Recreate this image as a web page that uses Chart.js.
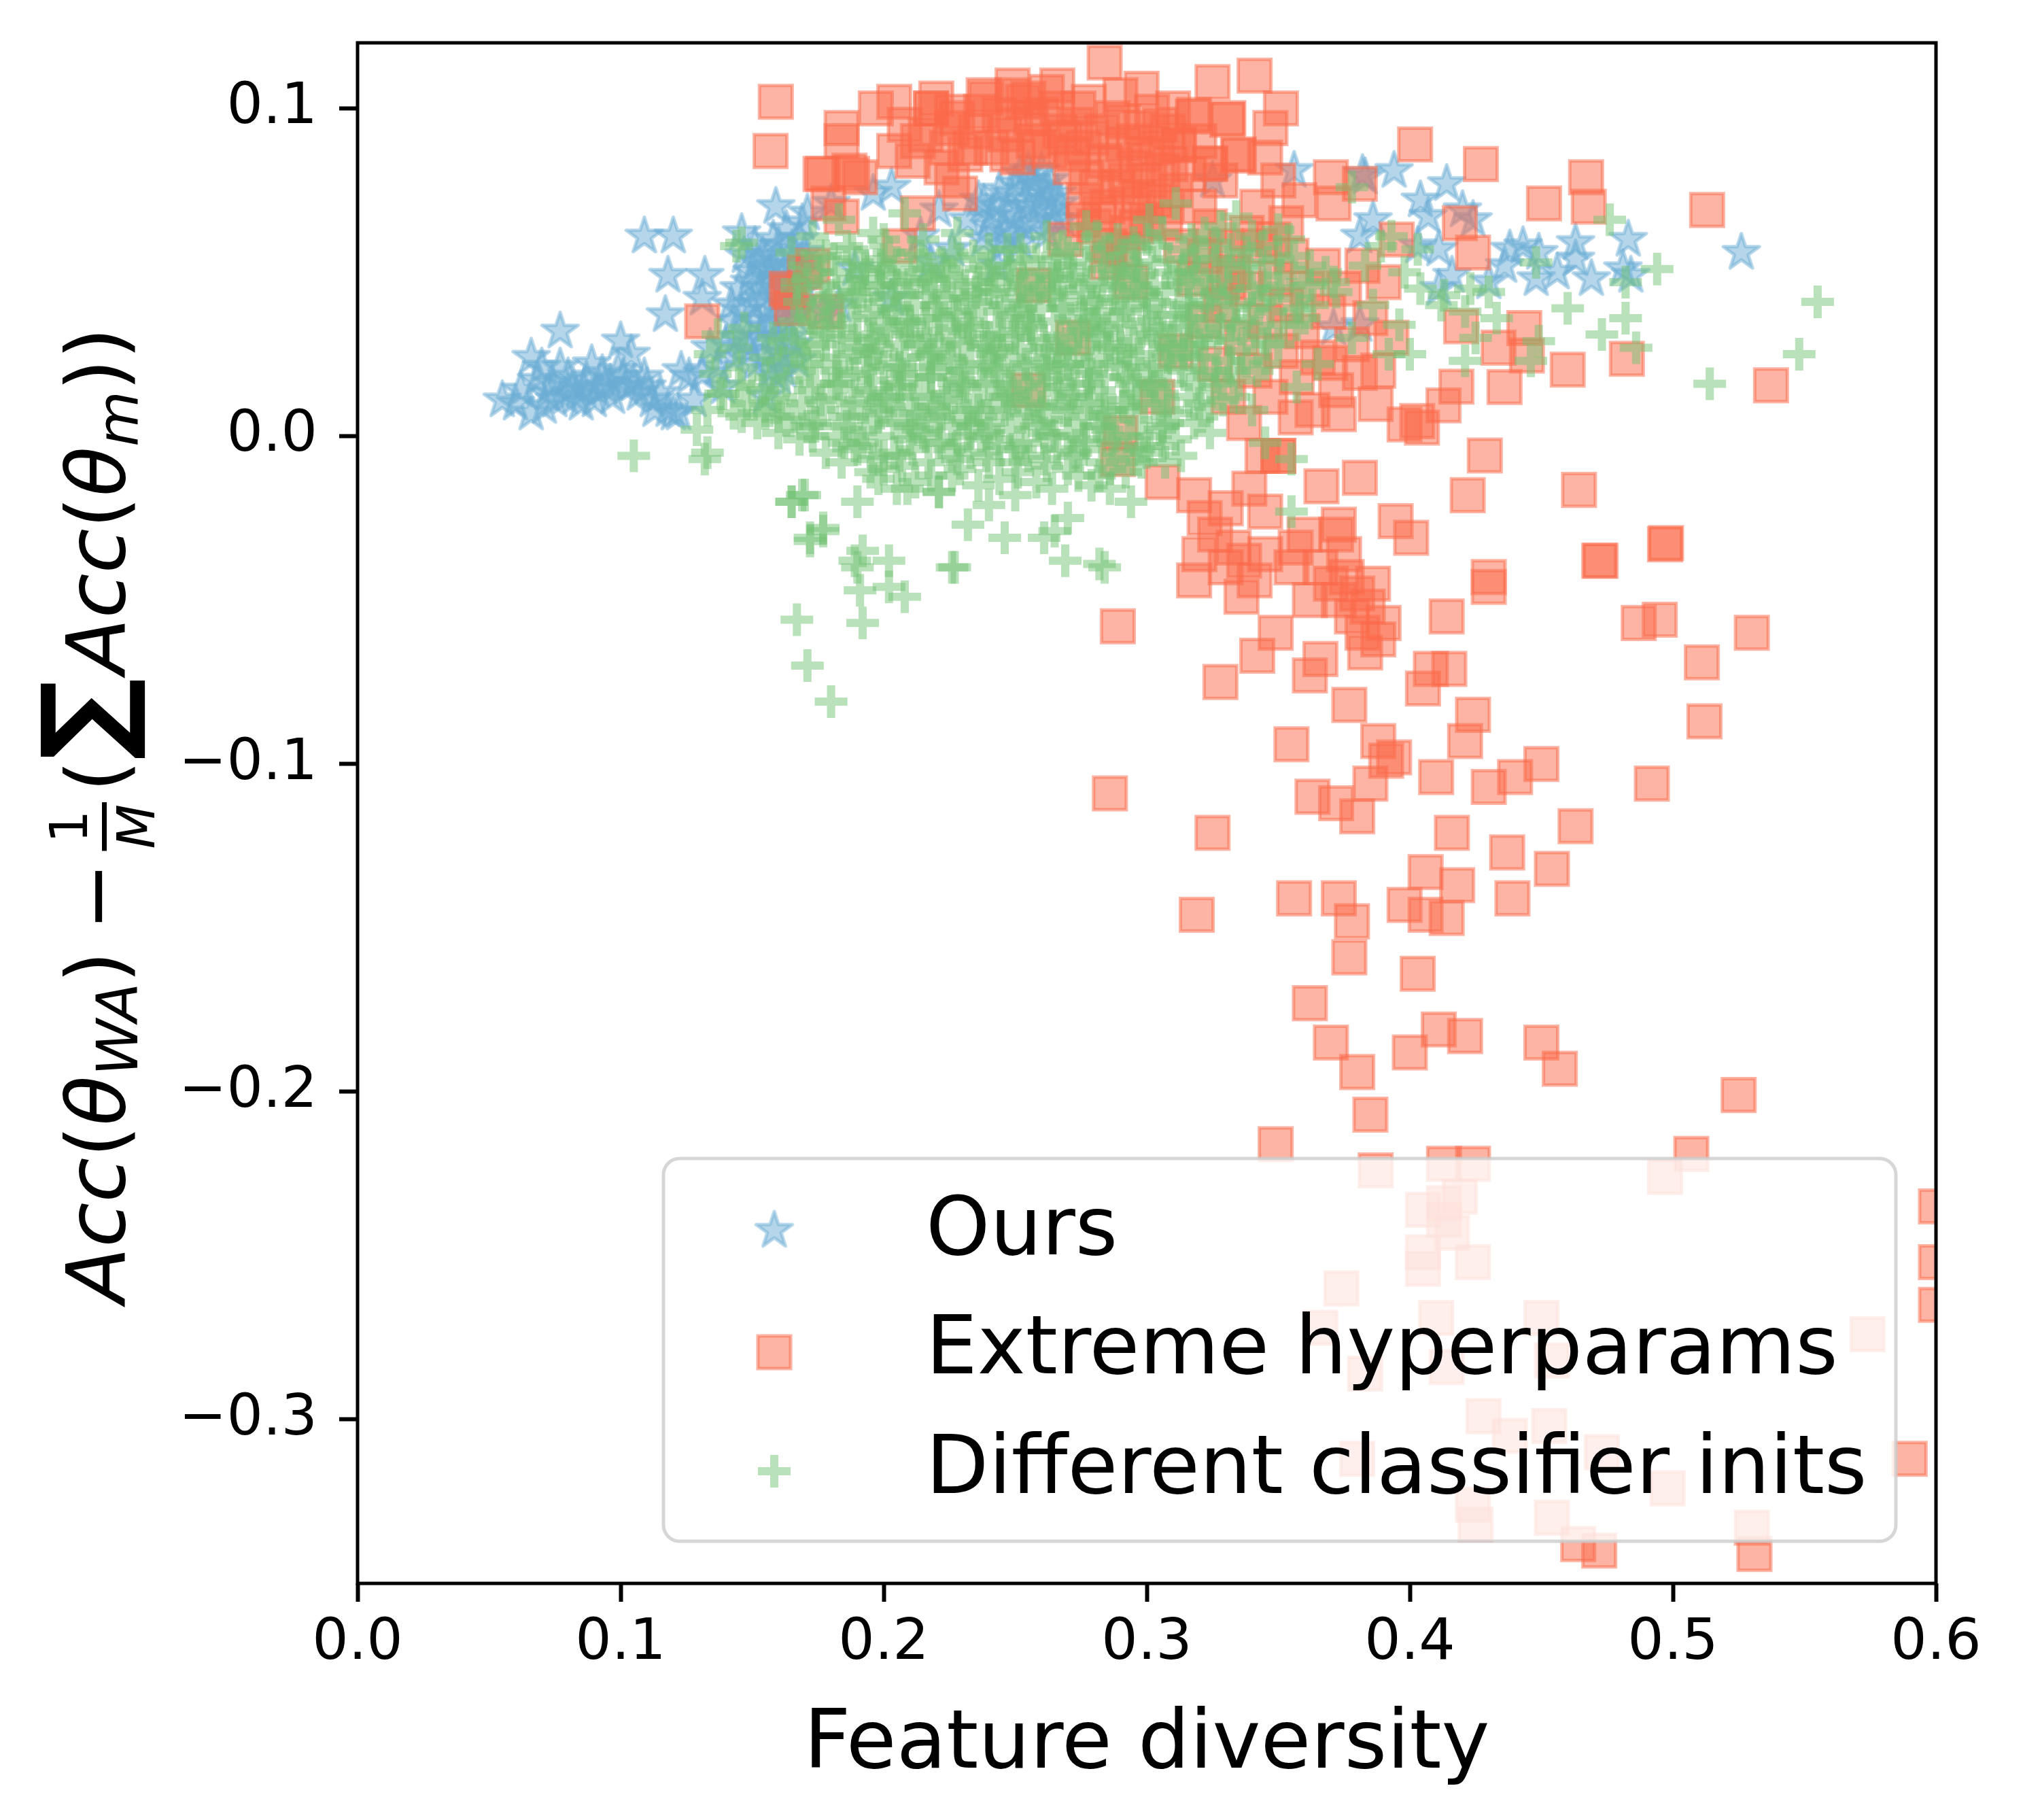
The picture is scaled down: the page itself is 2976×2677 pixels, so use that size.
<!DOCTYPE html>
<html>
<head>
<meta charset="utf-8">
<script src="https://cdn.jsdelivr.net/npm/chart.js@4.4.1/dist/chart.umd.min.js"></script>
<style>
  html, body { margin: 0; padding: 0; background: #fff; }
  canvas { display: block; }
</style>
</head>
<body>
<canvas id="grafico" width="2976" height="2677"></canvas>
<script>
const xTicks = [0.0, 0.1, 0.2, 0.3, 0.4, 0.5, 0.6];
const yTicks = [-0.3, -0.2, -0.1, 0.0, 0.1];
const xRange = [0, 0.6];
const yRange = [-0.35, 0.12];
const seriesNames = ['Ours', 'Extreme hyperparams', 'Different classifier inits'];

// Ours (stars)
const oursPts = [
  [0.055,0.011],[0.060,0.010],[0.066,0.007],[0.066,0.024],[0.070,0.021],[0.072,0.013],[0.074,0.016],
  [0.077,0.032],[0.077,0.021],[0.079,0.012],[0.082,0.015],[0.085,0.010],[0.087,0.017],[0.089,0.022],
  [0.091,0.014],[0.093,0.019],[0.096,0.016],[0.099,0.020],[0.100,0.029],[0.102,0.015],[0.104,0.025],
  [0.107,0.013],[0.109,0.018],[0.112,0.011],[0.115,0.013],[0.118,0.008],[0.120,0.007],[0.123,0.020],
  [0.126,0.018],[0.128,0.011],[0.131,0.019],[0.134,0.027],[0.137,0.021],[0.140,0.028],[0.143,0.035],
  [0.143,0.024],[0.139,0.015],[0.122,0.007],
  [0.062,0.014],[0.068,0.017],[0.071,0.009],[0.075,0.011],[0.080,0.018],[0.083,0.012],[0.086,0.014],
  [0.090,0.011],[0.094,0.015],[0.097,0.012],[0.101,0.018],[0.105,0.016],[0.110,0.015],[0.113,0.008],
  [0.109,0.061],[0.120,0.061],[0.118,0.049],[0.132,0.049],[0.117,0.037],[0.131,0.042],[0.146,0.062],
  [0.159,0.070],
  [0.148,0.030],[0.150,0.040],[0.150,0.050],[0.152,0.035],[0.153,0.045],[0.154,0.055],[0.155,0.025],
  [0.156,0.038],[0.157,0.048],[0.158,0.060],[0.159,0.030],[0.160,0.042],[0.161,0.052],[0.162,0.020],
  [0.163,0.035],[0.164,0.046],[0.165,0.057],[0.166,0.028],[0.167,0.040],[0.168,0.050],[0.169,0.065],
  [0.155,0.012],[0.160,0.018],[0.145,0.045],[0.147,0.055],[0.151,0.022],[0.158,0.052],[0.163,0.063],
  [0.146,0.038],[0.149,0.026],[0.151,0.058],[0.153,0.030],[0.154,0.042],[0.156,0.051],[0.157,0.020],
  [0.158,0.035],[0.160,0.058],[0.161,0.025],[0.162,0.045],[0.164,0.030],[0.165,0.052],[0.166,0.037],
  [0.168,0.060],[0.167,0.023],[0.170,0.045],[0.170,0.056],[0.149,0.047],[0.152,0.053],[0.155,0.033],
  [0.159,0.048],[0.163,0.040],[0.144,0.030],[0.142,0.040],
  [0.171,0.068],[0.180,0.071],[0.177,0.038],[0.183,0.040],[0.189,0.051],[0.196,0.074],[0.203,0.076],
  [0.203,0.042],[0.214,0.061],[0.218,0.053],[0.221,0.069],[0.226,0.057],[0.238,0.060],[0.243,0.052],
  [0.232,0.066],[0.236,0.072],[0.240,0.064],[0.243,0.070],[0.246,0.062],[0.248,0.074],[0.250,0.067],
  [0.252,0.059],[0.254,0.072],[0.256,0.078],[0.257,0.065],[0.259,0.070],[0.261,0.075],[0.262,0.062],
  [0.264,0.069],[0.266,0.074],[0.268,0.066],[0.252,0.080],[0.260,0.081],[0.245,0.058],
  [0.238,0.071],[0.241,0.067],[0.244,0.075],[0.247,0.068],[0.250,0.077],[0.253,0.064],[0.255,0.070],
  [0.258,0.076],[0.263,0.078],[0.265,0.066],[0.267,0.071],[0.249,0.061],[0.255,0.081],[0.262,0.072],
  [0.356,0.081],[0.383,0.079],[0.394,0.081],[0.414,0.077],[0.404,0.072],[0.407,0.067],[0.420,0.069],
  [0.424,0.066],[0.386,0.066],[0.381,0.061],[0.403,0.058],[0.411,0.057],[0.438,0.057],[0.443,0.058],
  [0.449,0.056],[0.463,0.059],[0.463,0.054],[0.483,0.060],[0.526,0.056],[0.481,0.051],[0.484,0.049],
  [0.469,0.048],[0.456,0.050],[0.448,0.048],[0.436,0.052],[0.430,0.047],[0.411,0.045],[0.416,0.049],
  [0.381,0.034],[0.371,0.033],[0.325,0.078],[0.382,0.080]
];

// Extreme hyperparams (squares)
const extremePts = [
  [0.159,0.102],[0.157,0.087],[0.184,0.094],[0.197,0.100],[0.204,0.102],[0.177,0.080],[0.188,0.080],
  [0.204,0.087],[0.218,0.100],[0.226,0.099],[0.239,0.103],[0.249,0.107],[0.255,0.103],[0.266,0.107],
  [0.284,0.114],[0.298,0.106],[0.291,0.096],[0.310,0.100],[0.318,0.098],[0.325,0.108],[0.331,0.097],
  [0.341,0.110],[0.335,0.086],[0.324,0.083],[0.312,0.089],[0.351,0.100],[0.347,0.094],[0.358,0.072],
  [0.370,0.079],[0.371,0.071],[0.381,0.077],[0.402,0.089],[0.427,0.083],[0.467,0.079],[0.468,0.070],
  [0.451,0.071],[0.513,0.069],[0.419,0.065],[0.424,0.056],
  [0.213,0.090],[0.218,0.100],[0.222,0.082],[0.226,0.094],[0.229,0.074],[0.233,0.088],[0.237,0.099],
  [0.246,0.092],[0.249,0.104],[0.251,0.085],[0.256,0.097],[0.259,0.088],[0.262,0.105],[0.267,0.093],
  [0.272,0.086],[0.274,0.100],[0.277,0.079],[0.279,0.091],[0.282,0.068],[0.284,0.084],[0.287,0.097],
  [0.289,0.076],[0.291,0.089],[0.294,0.071],[0.296,0.082],[0.298,0.094],[0.301,0.078],[0.304,0.088],
  [0.307,0.070],[0.309,0.083],[0.293,0.062],[0.286,0.058],[0.276,0.066],[0.300,0.066],[0.311,0.075],
  [0.208,0.095],[0.211,0.084],[0.216,0.092],[0.220,0.103],[0.224,0.088],[0.228,0.097],[0.231,0.086],
  [0.235,0.093],[0.238,0.104],[0.241,0.088],[0.244,0.098],[0.247,0.086],[0.250,0.095],[0.253,0.102],
  [0.257,0.090],[0.260,0.098],[0.263,0.087],[0.266,0.100],[0.269,0.091],[0.271,0.082],[0.273,0.095],
  [0.276,0.088],[0.278,0.102],[0.281,0.076],[0.283,0.093],[0.285,0.070],[0.288,0.083],[0.290,0.104],
  [0.292,0.078],[0.295,0.090],[0.297,0.073],[0.299,0.086],[0.302,0.099],[0.303,0.072],[0.306,0.081],
  [0.308,0.093],[0.280,0.064],[0.296,0.064],[0.226,0.078],[0.276,0.072],
  [0.3175,0.0975],[0.3306,0.0965],[0.3347,0.0856],[0.3242,0.0833],[0.3123,0.0887],[0.320,0.090],
  [0.328,0.078],[0.316,0.080],[0.305,0.095],[0.345,0.085],[0.350,0.078],[0.342,0.070],[0.353,0.065],
  [0.338,0.062],[0.348,0.060],
  [0.184,0.090],[0.176,0.080],[0.187,0.081],[0.191,0.079],[0.179,0.071],[0.184,0.067],[0.164,0.044],
  [0.165,0.039],[0.178,0.038],[0.170,0.050],[0.131,0.035],[0.163,0.045],[0.173,0.052],[0.206,0.058],
  [0.213,0.068],
  [0.269,0.060],[0.272,0.030],[0.257,0.046],[0.255,0.014],[0.290,0.001],[0.289,-0.007],[0.304,0.012],
  [0.306,-0.014],[0.318,-0.018],[0.311,0.026],[0.331,0.047],[0.291,0.057],[0.294,0.047],[0.285,0.053],
  [0.307,0.065],[0.313,0.058],[0.320,0.070],[0.324,0.064],[0.318,0.048],[0.322,0.035],[0.330,0.058],
  [0.322,0.055],[0.328,0.040],[0.333,0.050],[0.336,0.030],[0.338,0.045],[0.341,0.020],[0.343,0.058],
  [0.345,0.035],[0.347,0.012],[0.349,0.048],[0.351,0.026],[0.353,0.040],[0.355,0.055],[0.357,0.018],
  [0.359,0.032],[0.361,0.045],[0.363,0.008],[0.365,0.024],[0.367,0.052],[0.369,0.038],[0.372,0.014],
  [0.375,0.045],[0.378,0.028],[0.382,0.052],[0.385,0.036],[0.388,0.020],[0.390,0.047],[0.395,0.060],
  [0.393,0.030],[0.326,0.022],[0.331,0.012],[0.337,0.004],[0.344,-0.006],[0.350,-0.006],
  [0.4435,0.033],[0.436,0.015],[0.4177,0.0151],[0.4128,0.0094],[0.4028,0.0046],[0.4046,0.0026],
  [0.387,0.0098],[0.373,0.0067],[0.3566,0.0057],[0.460,0.0203],[0.4825,0.0236],[0.5373,0.0155],
  [0.4445,0.0246],[0.4337,0.027],[0.4195,0.0335],[0.381,0.0193],[0.3697,0.0223],[0.4285,-0.0059],
  [0.422,-0.018],[0.4643,-0.0164],[0.4974,-0.0326],[0.4725,-0.038],[0.430,-0.043],[0.381,-0.0127],
  [0.3664,-0.0153],[0.3946,-0.0259],[0.4005,-0.031],[0.373,-0.027],[0.3566,-0.034],[0.350,-0.006],
  [0.398,0.0036],
  [0.322,-0.025],[0.326,-0.030],[0.320,-0.036],[0.330,-0.040],[0.333,-0.034],[0.337,-0.038],
  [0.341,-0.044],[0.345,-0.036],[0.330,-0.022],[0.339,-0.016],[0.345,-0.023],[0.318,-0.044],
  [0.336,-0.049],[0.349,-0.060],[0.342,-0.067],
  [0.366,-0.040],[0.370,-0.045],[0.373,-0.050],[0.376,-0.043],[0.378,-0.055],[0.380,-0.048],
  [0.382,-0.060],[0.384,-0.052],[0.386,-0.045],[0.388,-0.062],[0.383,-0.066],[0.390,-0.057],
  [0.375,-0.036],[0.372,-0.030],[0.355,-0.040],[0.360,-0.030],[0.362,-0.050],
  [0.289,-0.058],[0.286,-0.109],[0.325,-0.121],[0.319,-0.146],[0.328,-0.075],[0.355,-0.094],
  [0.366,-0.068],[0.362,-0.073],[0.377,-0.082],[0.388,-0.093],[0.394,-0.098],[0.391,-0.099],
  [0.385,-0.106],[0.363,-0.110],[0.372,-0.112],[0.380,-0.116],[0.410,-0.104],[0.421,-0.093],
  [0.424,-0.085],[0.405,-0.077],[0.408,-0.071],[0.415,-0.071],[0.414,-0.055],[0.430,-0.046],
  [0.430,-0.107],[0.440,-0.104],[0.450,-0.100],[0.416,-0.121],[0.463,-0.119],[0.437,-0.127],
  [0.454,-0.132],[0.492,-0.106],[0.512,-0.087],[0.511,-0.069],[0.530,-0.060],[0.487,-0.057],
  [0.495,-0.056],[0.472,-0.038],[0.497,-0.033],[0.356,-0.141],[0.373,-0.141],[0.378,-0.148],
  [0.377,-0.159],[0.406,-0.133],[0.418,-0.137],[0.398,-0.143],[0.406,-0.146],[0.414,-0.147],
  [0.439,-0.141],[0.403,-0.164],[0.362,-0.173],[0.370,-0.185],[0.380,-0.194],[0.385,-0.207],
  [0.400,-0.188],[0.411,-0.181],[0.421,-0.183],[0.450,-0.185],[0.457,-0.193],[0.525,-0.201],
  [0.349,-0.216],[0.387,-0.224],[0.413,-0.222],[0.424,-0.222],[0.497,-0.226],[0.507,-0.219],
  [0.405,-0.236],[0.413,-0.234],[0.419,-0.232],[0.413,-0.239],[0.416,-0.243],[0.405,-0.249],
  [0.405,-0.254],[0.424,-0.252],[0.374,-0.260],[0.366,-0.272],[0.410,-0.269],[0.450,-0.269],
  [0.414,-0.284],[0.383,-0.286],[0.454,-0.282],[0.574,-0.274],[0.600,-0.252],[0.600,-0.235],
  [0.600,-0.265],[0.590,-0.312],[0.428,-0.299],[0.438,-0.305],[0.453,-0.302],[0.380,-0.312],
  [0.473,-0.310],[0.498,-0.321],[0.424,-0.326],[0.425,-0.332],[0.454,-0.330],[0.464,-0.338],
  [0.472,-0.340],[0.530,-0.333],[0.531,-0.341]
];

// Different classifier inits (plus)
const initsPts = [
  [0.183,0.066],[0.196,0.062],[0.208,0.068],[0.262,0.061],[0.277,0.064],[0.289,0.060],[0.301,0.066],
  [0.311,0.071],[0.322,0.062],[0.334,0.067],[0.173,0.061],[0.146,0.059],[0.144,0.058],
  [0.165,0.056],[0.176,0.055],[0.188,0.057],[0.199,0.054],[0.211,0.056],[0.222,0.053],[0.234,0.055],
  [0.247,0.057],[0.258,0.054],[0.270,0.056],[0.283,0.055],[0.296,0.057],[0.308,0.054],[0.319,0.056],
  [0.331,0.053],[0.344,0.058],[0.356,0.055],
  [0.171,0.048],[0.182,0.050],[0.193,0.052],[0.203,0.049],[0.214,0.050],
  [0.226,0.048],[0.237,0.051],[0.249,0.049],[0.260,0.050],[0.272,0.048],[0.284,0.051],[0.297,0.049],
  [0.309,0.050],[0.322,0.048],[0.336,0.051],[0.351,0.049],[0.368,0.050],
  [0.167,0.045],[0.178,0.042],[0.189,0.044],[0.199,0.046],[0.209,0.043],
  [0.219,0.045],[0.231,0.042],[0.242,0.044],[0.253,0.046],[0.264,0.043],[0.275,0.045],[0.287,0.042],
  [0.299,0.044],[0.312,0.046],[0.326,0.043],[0.340,0.045],[0.356,0.042],[0.372,0.044],
  [0.173,0.038],[0.184,0.040],[0.194,0.037],[0.205,0.039],
  [0.216,0.036],[0.227,0.038],[0.238,0.040],[0.249,0.037],[0.260,0.039],[0.271,0.036],[0.282,0.038],
  [0.294,0.040],[0.306,0.037],[0.318,0.039],[0.332,0.036],[0.347,0.038],[0.363,0.040],
  [0.137,0.031],[0.147,0.033],[0.158,0.030],[0.169,0.032],[0.180,0.034],[0.190,0.031],[0.201,0.033],
  [0.212,0.030],[0.223,0.032],[0.234,0.034],[0.245,0.031],[0.256,0.033],[0.267,0.030],[0.278,0.032],
  [0.290,0.034],[0.302,0.031],[0.314,0.033],[0.327,0.030],[0.341,0.032],[0.357,0.034],
  [0.134,0.025],[0.144,0.027],[0.155,0.024],[0.166,0.026],[0.176,0.028],[0.187,0.025],[0.198,0.027],
  [0.208,0.024],[0.219,0.026],[0.230,0.028],[0.241,0.025],[0.252,0.027],[0.263,0.024],[0.274,0.026],
  [0.285,0.028],[0.297,0.025],[0.309,0.027],[0.322,0.024],[0.336,0.026],[0.350,0.028],
  [0.136,0.019],[0.146,0.021],[0.157,0.018],[0.168,0.020],[0.178,0.022],[0.189,0.019],[0.200,0.021],
  [0.211,0.018],[0.222,0.020],[0.233,0.022],[0.244,0.019],[0.255,0.021],[0.266,0.018],[0.277,0.020],
  [0.288,0.022],[0.300,0.019],[0.313,0.021],[0.327,0.018],[0.342,0.020],
  [0.139,0.013],[0.150,0.015],[0.161,0.012],[0.172,0.014],[0.183,0.016],[0.194,0.013],[0.205,0.015],
  [0.216,0.012],[0.227,0.014],[0.238,0.016],[0.249,0.013],[0.260,0.015],[0.271,0.012],[0.282,0.014],
  [0.294,0.016],[0.306,0.013],[0.319,0.015],[0.333,0.012],
  [0.143,0.007],[0.155,0.009],[0.166,0.006],[0.177,0.008],[0.188,0.010],[0.199,0.007],[0.210,0.009],
  [0.221,0.006],[0.232,0.008],[0.243,0.010],[0.254,0.007],[0.265,0.009],[0.276,0.006],[0.287,0.008],
  [0.299,0.010],[0.311,0.007],[0.324,0.009],
  [0.160,0.001],[0.171,0.003],[0.182,0.000],[0.193,0.002],[0.204,0.004],[0.215,0.001],[0.226,0.003],
  [0.237,0.000],[0.248,0.002],[0.259,0.004],[0.270,0.001],[0.281,0.003],[0.293,0.000],[0.305,0.002],
  [0.318,0.004],
  [0.178,-0.005],[0.189,-0.003],[0.200,-0.006],[0.211,-0.004],[0.222,-0.002],[0.233,-0.005],
  [0.244,-0.003],[0.255,-0.006],[0.266,-0.004],[0.277,-0.002],[0.289,-0.005],[0.301,-0.003],
  [0.313,-0.006],
  [0.195,-0.011],[0.207,-0.009],[0.218,-0.012],[0.229,-0.010],[0.240,-0.008],[0.251,-0.011],
  [0.262,-0.009],[0.274,-0.012],[0.286,-0.010],[0.298,-0.008],
  [0.205,-0.016],[0.221,-0.017],[0.236,-0.015],[0.250,-0.018],[0.264,-0.016],[0.279,-0.015],
  [0.215,0.060],[0.228,0.062],[0.268,0.058],[0.281,0.061],[0.295,0.059],[0.306,0.062],[0.317,0.060],
  [0.328,0.064],[0.340,0.061],[0.350,0.063],
  [0.170,0.052],[0.181,0.054],[0.193,0.051],[0.205,0.053],[0.217,0.051],[0.229,0.054],[0.241,0.052],
  [0.253,0.054],[0.265,0.052],[0.277,0.053],[0.290,0.051],[0.302,0.053],[0.314,0.051],[0.326,0.054],
  [0.339,0.052],[0.350,0.054],[0.362,0.052],
  [0.167,0.047],[0.177,0.046],[0.188,0.048],[0.198,0.046],[0.208,0.047],[0.219,0.048],[0.231,0.046],
  [0.243,0.047],[0.255,0.048],[0.267,0.046],[0.279,0.047],[0.291,0.048],[0.303,0.046],[0.316,0.047],
  [0.329,0.048],[0.344,0.046],[0.359,0.047],
  [0.168,0.041],[0.179,0.040],[0.190,0.042],[0.201,0.041],[0.212,0.040],[0.223,0.042],[0.235,0.041],
  [0.246,0.040],[0.257,0.042],[0.268,0.041],[0.279,0.040],[0.291,0.042],[0.303,0.041],[0.315,0.040],
  [0.329,0.042],[0.343,0.041],[0.358,0.039],
  [0.166,0.035],[0.177,0.034],[0.188,0.036],[0.199,0.035],[0.210,0.034],[0.221,0.036],[0.232,0.035],
  [0.243,0.034],[0.254,0.036],[0.265,0.035],[0.276,0.034],[0.288,0.036],[0.300,0.035],[0.312,0.034],
  [0.324,0.036],[0.338,0.035],[0.352,0.034],
  [0.162,0.029],[0.173,0.028],[0.184,0.030],[0.195,0.029],[0.206,0.028],[0.217,0.030],[0.228,0.029],
  [0.239,0.028],[0.250,0.030],[0.261,0.029],[0.272,0.028],[0.283,0.030],[0.295,0.029],[0.307,0.028],
  [0.319,0.030],[0.332,0.029],[0.346,0.028],
  [0.160,0.023],[0.171,0.022],[0.182,0.024],[0.193,0.023],[0.204,0.022],[0.215,0.024],[0.226,0.023],
  [0.237,0.022],[0.248,0.024],[0.259,0.023],[0.270,0.022],[0.281,0.024],[0.293,0.023],[0.305,0.022],
  [0.318,0.024],[0.331,0.023],[0.345,0.022],
  [0.145,0.016],[0.163,0.017],[0.174,0.016],[0.185,0.018],[0.196,0.017],[0.207,0.016],[0.218,0.018],
  [0.229,0.017],[0.240,0.016],[0.251,0.018],[0.262,0.017],[0.273,0.016],[0.284,0.018],[0.296,0.017],
  [0.308,0.016],[0.321,0.018],[0.335,0.017],
  [0.148,0.010],[0.158,0.011],[0.169,0.010],[0.180,0.012],[0.191,0.011],[0.202,0.010],[0.213,0.012],
  [0.224,0.011],[0.235,0.010],[0.246,0.012],[0.257,0.011],[0.268,0.010],[0.279,0.012],[0.291,0.011],
  [0.303,0.010],[0.316,0.012],[0.329,0.011],
  [0.152,0.004],[0.163,0.005],[0.174,0.004],[0.185,0.006],[0.196,0.005],[0.207,0.004],[0.218,0.006],
  [0.229,0.005],[0.240,0.004],[0.251,0.006],[0.262,0.005],[0.273,0.004],[0.284,0.006],[0.296,0.005],
  [0.308,0.004],[0.321,0.006],
  [0.168,-0.001],[0.185,-0.002],[0.198,0.000],[0.210,-0.001],[0.221,-0.002],[0.232,0.000],[0.243,-0.001],
  [0.254,-0.002],[0.265,0.000],[0.276,-0.001],[0.287,-0.002],[0.299,0.000],[0.311,-0.001],[0.324,0.001],
  [0.184,-0.008],[0.196,-0.007],[0.206,-0.006],[0.217,-0.008],[0.228,-0.007],[0.239,-0.006],[0.250,-0.008],
  [0.261,-0.007],[0.272,-0.006],[0.283,-0.008],[0.295,-0.007],[0.307,-0.008],
  [0.192,0.044],[0.204,0.038],[0.216,0.043],[0.228,0.037],[0.240,0.045],[0.252,0.039],[0.264,0.044],
  [0.276,0.038],[0.288,0.045],[0.300,0.039],
  [0.197,0.025],[0.209,0.031],[0.221,0.027],[0.233,0.031],[0.245,0.026],[0.257,0.030],[0.269,0.026],
  [0.281,0.031],[0.293,0.026],[0.305,0.030],
  [0.195,0.014],[0.207,0.019],[0.219,0.009],[0.231,0.015],[0.243,0.020],[0.255,0.010],[0.267,0.015],
  [0.279,0.019],[0.291,0.009],[0.303,0.015],
  [0.213,0.002],[0.225,-0.004],[0.237,0.006],[0.249,-0.004],[0.261,0.001],[0.273,-0.005],[0.285,0.002],
  [0.297,-0.004],[0.200,0.050],[0.224,0.049],[0.248,0.052],[0.272,0.050],[0.296,0.052],[0.316,0.028],
  [0.316,0.040],[0.326,0.016],[0.334,0.040],[0.340,0.008],
  [0.196,0.030],[0.210,0.035],[0.225,0.024],[0.240,0.030],[0.255,0.036],[0.270,0.022],[0.285,0.033],
  [0.202,0.012],[0.218,0.018],[0.232,0.004],[0.247,0.012],[0.262,0.020],[0.278,0.010],[0.292,0.018],
  [0.205,0.046],[0.220,0.040],[0.236,0.047],[0.251,0.042],[0.266,0.049],[0.281,0.041],[0.296,0.046],
  [0.175,0.050],[0.187,0.046],[0.199,0.051],[0.211,0.047],[0.223,0.051],[0.235,0.044],[0.247,0.050],
  [0.259,0.045],[0.271,0.052],[0.283,0.046],[0.295,0.050],[0.307,0.044],[0.319,0.050],[0.331,0.045],
  [0.172,0.036],[0.184,0.033],[0.196,0.039],[0.208,0.035],[0.220,0.038],[0.232,0.033],[0.244,0.038],
  [0.256,0.034],[0.268,0.039],[0.280,0.035],[0.292,0.038],[0.304,0.033],[0.316,0.036],[0.328,0.033],
  [0.340,0.039],
  [0.170,0.025],[0.182,0.020],[0.194,0.026],[0.206,0.021],[0.218,0.025],[0.230,0.020],[0.242,0.027],
  [0.254,0.022],[0.266,0.027],[0.278,0.022],[0.290,0.027],[0.302,0.021],[0.314,0.025],[0.326,0.020],
  [0.338,0.023],
  [0.176,0.011],[0.188,0.006],[0.200,0.012],[0.212,0.007],[0.224,0.013],[0.236,0.008],[0.248,0.014],
  [0.260,0.009],[0.272,0.013],[0.284,0.008],[0.296,0.013],[0.308,0.008],[0.320,0.010],
  [0.192,-0.002],[0.204,-0.005],[0.216,0.000],[0.228,-0.003],[0.240,0.001],[0.252,-0.004],[0.264,0.000],
  [0.276,-0.004],[0.288,0.000],[0.300,-0.005],
  [0.186,0.058],[0.200,0.060],[0.214,0.055],[0.240,0.057],[0.266,0.055],[0.286,0.057],[0.300,0.060],
  [0.314,0.057],[0.326,0.059],[0.338,0.056],
  [0.178,0.031],[0.190,0.027],[0.202,0.032],[0.214,0.028],[0.226,0.033],[0.238,0.027],[0.250,0.032],
  [0.262,0.027],[0.274,0.032],[0.286,0.027],[0.298,0.032],[0.310,0.027],[0.322,0.031],
  [0.180,0.043],[0.192,0.048],[0.204,0.043],[0.216,0.048],[0.228,0.043],[0.240,0.049],[0.252,0.044],
  [0.264,0.048],[0.276,0.043],[0.288,0.049],[0.300,0.043],[0.312,0.049],[0.324,0.044],
  [0.182,0.016],[0.194,0.020],[0.206,0.015],[0.218,0.021],[0.230,0.016],[0.242,0.021],[0.254,0.016],
  [0.266,0.021],[0.278,0.016],[0.290,0.021],[0.302,0.016],[0.314,0.020],
  [0.186,0.003],[0.198,0.008],[0.210,0.003],[0.222,0.008],[0.234,0.003],[0.246,0.008],[0.258,0.003],
  [0.270,0.008],[0.282,0.003],[0.294,0.008],[0.306,0.003],
  [0.178,0.055],[0.190,0.053],[0.202,0.056],[0.226,0.056],[0.252,0.057],[0.278,0.058],[0.292,0.055],
  [0.304,0.058],[0.318,0.054],[0.332,0.057],[0.346,0.053],
  [0.310,0.037],[0.322,0.041],[0.334,0.034],[0.346,0.043],[0.308,0.024],[0.320,0.028],[0.332,0.020],
  [0.344,0.030],[0.350,0.045],[0.354,0.060],[0.362,0.046],
  [0.198,-0.013],[0.212,-0.014],[0.226,-0.012],[0.244,-0.013],[0.258,-0.014],[0.270,-0.010],
  [0.282,-0.012],[0.292,-0.011],
  [0.105,-0.006],[0.133,-0.005],[0.132,-0.007],[0.138,0.013],[0.154,0.014],[0.165,-0.020],
  [0.169,-0.018],[0.172,-0.031],[0.177,-0.028],[0.190,-0.004],[0.192,-0.035],[0.191,-0.047],
  [0.174,0.003],[0.160,0.006],[0.129,0.002],[0.146,0.006],[0.133,0.008],
  [0.165,-0.020],[0.170,-0.018],[0.172,-0.032],[0.177,-0.029],[0.189,-0.038],[0.202,-0.038],
  [0.226,-0.040],[0.240,-0.021],[0.246,-0.031],[0.265,-0.029],[0.270,-0.025],[0.269,-0.038],
  [0.282,-0.039],[0.232,-0.027],[0.221,-0.017],[0.209,-0.016],[0.200,-0.010],[0.190,-0.020],
  [0.173,0.000],[0.155,0.007],[0.286,-0.016],[0.294,-0.020],[0.306,-0.003],
  [0.167,-0.056],[0.171,-0.070],[0.180,-0.081],[0.192,-0.057],[0.208,-0.049],[0.202,-0.046],
  [0.190,-0.040],[0.227,-0.040],[0.261,-0.031],[0.284,-0.040],
  [0.371,0.047],[0.383,0.052],[0.389,0.058],[0.398,0.050],[0.404,0.045],[0.412,0.040],[0.421,0.038],
  [0.425,0.030],[0.430,0.044],[0.433,0.036],[0.386,0.040],[0.378,0.030],[0.392,0.025],[0.360,0.036],
  [0.365,0.022],[0.355,-0.007],[0.345,-0.002],
  [0.476,0.066],[0.494,0.051],[0.482,0.047],[0.555,0.041],[0.548,0.025],[0.514,0.016],[0.482,0.036],
  [0.473,0.031],[0.486,0.027],[0.460,0.039],[0.448,0.053],[0.449,0.029],[0.423,0.045],[0.413,0.043],
  [0.403,0.057],[0.396,0.034],[0.400,0.025],[0.421,0.023],[0.446,0.023],[0.393,0.061],[0.378,0.076],
  [0.355,-0.023],[0.357,0.015]
];

const blue50 = 'rgba(107,174,214,0.5)';
const red50 = 'rgba(251,106,74,0.5)';
const green50 = 'rgba(116,196,118,0.5)';

function makeStar(R, lw) {
  const size = Math.ceil(2 * R + lw + 4);
  const c = document.createElement('canvas');
  c.width = size; c.height = size;
  const g = c.getContext('2d');
  const r = R * 0.381966;
  g.beginPath();
  for (let i = 0; i < 10; i++) {
    const a = -Math.PI / 2 + i * Math.PI / 5;
    const rr = i % 2 ? r : R;
    const px = size / 2 + rr * Math.cos(a);
    const py = size / 2 + rr * Math.sin(a);
    if (i === 0) g.moveTo(px, py); else g.lineTo(px, py);
  }
  g.closePath();
  g.fillStyle = blue50;
  g.fill();
  g.lineJoin = 'round';
  g.lineWidth = lw;
  g.strokeStyle = blue50;
  g.stroke();
  return c;
}
const starImg = makeStar(28, 5);

const fmt = v => (v < -1e-9 ? '\u2212' : '') + Math.abs(v).toFixed(1);
const toXY = a => a.map(p => ({ x: p[0], y: p[1] }));

const decor = {
  id: 'decor',
  afterDatasetsDraw(chart) {
    const { ctx, chartArea: a } = chart;
    ctx.save();
    ctx.strokeStyle = '#000';
    ctx.lineWidth = 5;
    ctx.strokeRect(a.left, a.top, a.right - a.left, a.bottom - a.top);
    ctx.restore();
  },
  afterDraw(chart) {
    const { ctx, chartArea: a } = chart;
    ctx.save();
    // x title
    ctx.fillStyle = '#000';
    ctx.font = '120px "DejaVu Sans"';
    ctx.textAlign = 'center';
    ctx.textBaseline = 'alphabetic';
    ctx.fillText('Feature diversity', (a.left + a.right) / 2, 2600);

    // y title (math text)
    drawYTitle(ctx, 183, 1199);

    // legend
    const lx = 976, ly = 1704, lw = 1813, lh = 563, rad = 24;
    ctx.beginPath();
    ctx.roundRect(lx, ly, lw, lh, rad);
    ctx.fillStyle = 'rgba(255,255,255,0.8)';
    ctx.fill();
    ctx.lineWidth = 5;
    ctx.strokeStyle = 'rgba(204,204,204,0.8)';
    ctx.stroke();

    const mx = 1139;
    const rows = [1810, 1989, 2164];
    const bases = [1845, 2020, 2196];
    ctx.drawImage(starImg, mx - starImg.width / 2, rows[0] - starImg.height / 2);
    const s = 34 * Math.SQRT1_2;
    ctx.beginPath();
    ctx.rect(mx - s, rows[1] - s, 2 * s, 2 * s);
    ctx.fillStyle = red50; ctx.fill();
    ctx.lineWidth = 5; ctx.strokeStyle = red50; ctx.stroke();
    ctx.beginPath();
    ctx.moveTo(mx - 24, rows[2]); ctx.lineTo(mx + 24, rows[2]);
    ctx.moveTo(mx, rows[2] - 24); ctx.lineTo(mx, rows[2] + 24);
    ctx.lineWidth = 12; ctx.strokeStyle = green50; ctx.stroke();

    ctx.fillStyle = '#000';
    ctx.font = '120px "DejaVu Sans"';
    ctx.textAlign = 'left';
    ctx.textBaseline = 'alphabetic';
    seriesNames.forEach((n, i) => ctx.fillText(n, 1362, bases[i]));
    ctx.restore();
  }
};

function drawYTitle(ctx, baseX, centerY) {
  const fam = '"DejaVu Sans"';
  const segs = [
    { t: 'Acc', f: 'italic 120px ' + fam, dy: 0 },
    { t: '(', f: '120px ' + fam, dy: 0 },
    { t: '\u03b8', f: 'italic 120px ' + fam, dy: 0 },
    { t: 'WA', f: 'italic 84px ' + fam, dy: 19 },
    { t: ')', f: '120px ' + fam, dy: 0 },
    { gap: 30 },
    { t: '\u2212', f: '120px ' + fam, dy: 0 },
    { gap: 14 },
    { frac: ['1', 'M'] },
    { gap: 12 },
    { t: '(', f: '120px ' + fam, dy: 0 },
    { sum: true },
    { gap: 6 },
    { t: 'Acc', f: 'italic 120px ' + fam, dy: 0 },
    { t: '(', f: '120px ' + fam, dy: 0 },
    { t: '\u03b8', f: 'italic 120px ' + fam, dy: 0 },
    { t: 'm', f: 'italic 84px ' + fam, dy: 19 },
    { t: '))', f: '120px ' + fam, dy: 0 }
  ];
  ctx.save();
  ctx.font = 'bold 100px ' + fam;
  const sm = ctx.measureText('\u2211');
  const sh = sm.actualBoundingBoxAscent + sm.actualBoundingBoxDescent;
  const sumSize = 100 * 155 / sh;
  const sumDy = -123 + sm.actualBoundingBoxAscent * 155 / sh;
  const fracFontN = '76px ' + fam, fracFontD = 'italic 76px ' + fam;
  let total = 0;
  segs.forEach(s => {
    if (s.gap) s.w = s.gap;
    else if (s.frac) {
      ctx.font = fracFontN; const w1 = ctx.measureText(s.frac[0]).width;
      ctx.font = fracFontD; const w2 = ctx.measureText(s.frac[1]).width;
      s.w = Math.max(w1, w2) + 12; s.w1 = w1; s.w2 = w2;
    } else if (s.sum) {
      ctx.font = 'bold ' + sumSize + 'px ' + fam; s.w = ctx.measureText('\u2211').width;
    } else { ctx.font = s.f; s.w = ctx.measureText(s.t).width; }
    total += s.w;
  });
  ctx.translate(baseX, centerY);
  ctx.rotate(-Math.PI / 2);
  ctx.fillStyle = '#000';
  ctx.textAlign = 'left';
  ctx.textBaseline = 'alphabetic';
  let x = -total / 2;
  segs.forEach(s => {
    if (s.frac) {
      ctx.font = fracFontN; ctx.fillText(s.frac[0], x + (s.w - s.w1) / 2, -55);
      ctx.font = fracFontD; ctx.fillText(s.frac[1], x + (s.w - s.w2) / 2, 44);
      ctx.fillRect(x + 3, -33, s.w - 6, 7);
    } else if (s.sum) {
      ctx.font = 'bold ' + sumSize + 'px ' + fam; ctx.fillText('\u2211', x, sumDy);
    } else if (s.t) {
      ctx.font = s.f; ctx.fillText(s.t, x, s.dy);
    }
    x += s.w;
  });
  ctx.restore();
}

const tickFont = { family: 'DejaVu Sans', size: 84 };

const graphic = new Chart('grafico', {
  type: 'scatter',
  data: {
    datasets: [
      { label: seriesNames[0], data: toXY(oursPts), pointStyle: starImg, pointRadius: 28, order: 3, clip: 0 },
      { label: seriesNames[1], data: toXY(extremePts), pointStyle: 'rect', pointRadius: 34,
        backgroundColor: red50, borderColor: red50, borderWidth: 5, order: 2, clip: 0 },
      { label: seriesNames[2], data: toXY(initsPts), pointStyle: 'cross', pointRadius: 24,
        backgroundColor: 'rgba(0,0,0,0)', borderColor: green50, borderWidth: 12, order: 1, clip: 0 }
    ]
  },
  options: {
    responsive: false,
    devicePixelRatio: 1,
    animation: false,
    events: [],
    layout: { padding: { left: 0, top: 63, right: 128, bottom: 0 } },
    plugins: { legend: { display: false }, tooltip: { enabled: false } },
    scales: {
      x: {
        type: 'linear', position: 'bottom', min: xRange[0], max: xRange[1],
        afterBuildTicks: s => { s.ticks = xTicks.map(v => ({ value: v })); },
        afterFit: s => { s.height = 348; s.paddingLeft = 0; s.paddingRight = 0; },
        ticks: { font: tickFont, color: '#000', padding: 12, maxRotation: 0, autoSkip: false, callback: v => fmt(v) },
        grid: { drawOnChartArea: false, drawTicks: true, tickLength: 27, tickWidth: 6, tickColor: '#000' },
        border: { display: false }
      },
      y: {
        type: 'linear', position: 'left', min: yRange[0], max: yRange[1],
        afterBuildTicks: s => { s.ticks = yTicks.map(v => ({ value: v })); },
        afterFit: s => { s.width = 526; s.paddingTop = 0; s.paddingBottom = 0; },
        ticks: { font: tickFont, color: '#000', padding: 32, autoSkip: false, callback: v => fmt(v) },
        grid: { drawOnChartArea: false, drawTicks: true, tickLength: 27, tickWidth: 6, tickColor: '#000' },
        border: { display: false }
      }
    }
  },
  plugins: [decor]
});
</script>
</body>
</html>
